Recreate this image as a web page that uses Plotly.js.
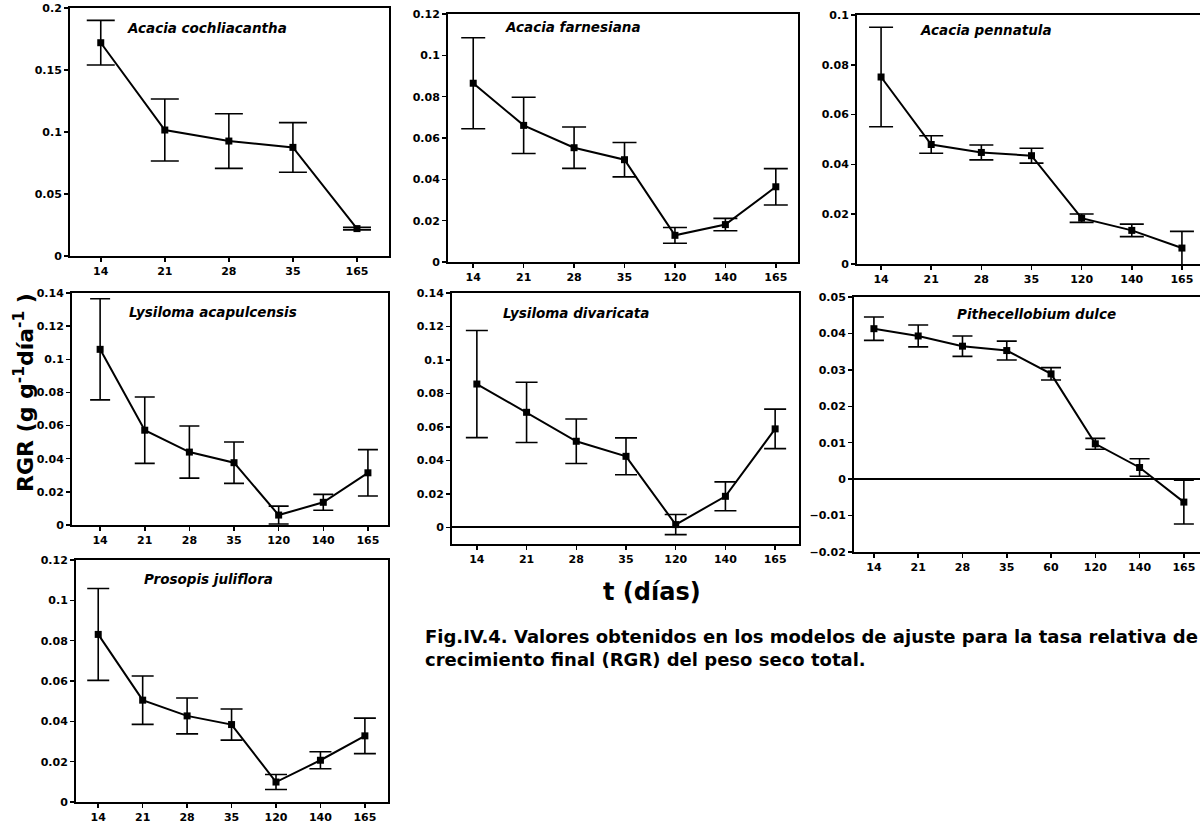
<!DOCTYPE html>
<html>
<head>
<meta charset="utf-8">
<script src="https://cdn.plot.ly/plotly-3.0.1.min.js"></script>
<style>
html,body{margin:0;padding:0;overflow:hidden;background:#fff;}
#chart{width:1210px;height:828px;}
</style>
</head>
<body>
<div id="chart"></div>
<script>
// ---- data ----
const daysShort = ['14','21','28','35','165'];
const daysLong = ['14','21','28','35','120','140','165'];
const daysDulce = ['14','21','28','35','60','120','140','165'];

const cochRGR = [0.172, 0.1016, 0.0927, 0.0876, 0.0221];
const cochErr = [0.018, 0.025, 0.022, 0.020, 0.001];

const farnRGR = [0.0865, 0.0661, 0.0553, 0.0495, 0.0129, 0.0181, 0.0364];
const farnErr = [0.022, 0.0136, 0.010, 0.0083, 0.0038, 0.003, 0.0088];

const pennRGR = [0.0751, 0.048, 0.0448, 0.0435, 0.0184, 0.0135, 0.0064];
const pennErr = [0.020, 0.0035, 0.003, 0.003, 0.0017, 0.0025, 0.0067];

const acapRGR = [0.106, 0.0572, 0.044, 0.0376, 0.006, 0.0137, 0.0315];
const acapErr = [0.0305, 0.020, 0.0157, 0.0125, 0.0054, 0.0048, 0.014];

const divaRGR = [0.0856, 0.0687, 0.0514, 0.0424, 0.0016, 0.0185, 0.0588];
const divaErr = [0.032, 0.018, 0.0133, 0.011, 0.006, 0.0086, 0.0118];

const dulcRGR = [0.0413, 0.0393, 0.0365, 0.0353, 0.0289, 0.0097, 0.0032, -0.0063];
const dulcErr = [0.0032, 0.003, 0.0028, 0.0026, 0.0017, 0.0015, 0.0024, 0.006];

const juliRGR = [0.0831, 0.0505, 0.0427, 0.0384, 0.0099, 0.0207, 0.0328];
const juliErr = [0.0228, 0.012, 0.0089, 0.0077, 0.0037, 0.0042, 0.0088];

const speciesNames = ['Acacia cochliacantha','Acacia farnesiana','Acacia pennatula',
  'Lysiloma acapulcensis','Lysiloma divaricata','Pithecellobium dulce','Prosopis juliflora'];

const yTitleText = 'RGR (g g<sup>-1</sup>día<sup>-1</sup> )';
const xTitleText = 't (días)';
const captionText = 'Fig.IV.4. Valores obtenidos en los modelos de ajuste para la tasa relativa de<br>crecimiento final (RGR) del peso seco total.';

// ---- layout helpers ----
const W = 1210, H = 828;
const dx = (a,b) => [a/W, b/W];
const dy = (top,bottom) => [1-bottom/H, 1-top/H];

const panels = [
  {x: daysShort, y: cochRGR, e: cochErr, xd: dx(70,389), yd: dy(8,256), xr:[-0.48,4.5], yr:[0,0.2], dt:0.05, cap:14, zl:false, tx:125, ty:28},
  {x: daysLong, y: farnRGR, e: farnErr, xd: dx(448,798), yd: dy(14,262), xr:[-0.5,6.44], yr:[0,0.12], dt:0.02, cap:12, zl:false, tx:503, ty:27},
  {x: daysLong, y: pennRGR, e: pennErr, xd: dx(857,1207), yd: dy(15,264), xr:[-0.48,6.5], yr:[0,0.1], dt:0.02, cap:12, zl:false, tx:918, ty:30},
  {x: daysLong, y: acapRGR, e: acapErr, xd: dx(72,388), yd: dy(293,525), xr:[-0.63,6.45], yr:[0,0.14], dt:0.02, cap:10, zl:false, tx:127, ty:312},
  {x: daysLong, y: divaRGR, e: divaErr, xd: dx(452,799), yd: dy(293,544), xr:[-0.5,6.48], yr:[-0.01,0.14], dt:0.02, cap:11, zl:true, tx:501, ty:313},
  {x: daysDulce, y: dulcRGR, e: dulcErr, xd: dx(854,1206), yd: dy(297,552), xr:[-0.45,7.5], yr:[-0.02,0.05], dt:0.01, cap:10, zl:true, tx:955, ty:314},
  {x: daysLong, y: juliRGR, e: juliErr, xd: dx(76,388), yd: dy(560,802), xr:[-0.5,6.52], yr:[0,0.12], dt:0.02, cap:11, zl:false, tx:142, ty:579}
];

const tickFont = {family:'DejaVu Sans', size:11, color:'#000', weight:'bold'};
const traces = [];
const layout = {
  width: W, height: H,
  margin: {l:0, r:0, t:0, b:0},
  paper_bgcolor: '#fff', plot_bgcolor: '#fff',
  showlegend: false,
  annotations: []
};

panels.forEach((p, i) => {
  const n = i === 0 ? '' : String(i+1);
  traces.push({
    type: 'scatter', mode: 'lines+markers',
    x: p.x, y: p.y,
    xaxis: 'x'+n, yaxis: 'y'+n,
    line: {color:'#000', width:2},
    marker: {symbol:'square', size:7, color:'#000'},
    error_y: {type:'data', array:p.e, visible:true, color:'#000', thickness:1.6, width:p.cap},
    hoverinfo: 'skip'
  });
  layout['xaxis'+n] = {
    domain: p.xd, anchor: 'y'+n, type:'category', range: p.xr,
    showgrid:false, zeroline:false, showline:true, mirror:true, linecolor:'#000', linewidth:2,
    ticks:'outside', ticklen:4, tickwidth:1.5, tickcolor:'#000', tickfont: tickFont, fixedrange:true
  };
  layout['yaxis'+n] = {
    domain: p.yd, anchor: 'x'+n, range: p.yr, dtick: p.dt, tick0: 0,
    showgrid:false, zeroline:p.zl, zerolinecolor:'#000', zerolinewidth:2,
    showline:true, mirror:true, linecolor:'#000', linewidth:2,
    ticks:'outside', ticklen:4, tickwidth:1.5, tickcolor:'#000', tickfont: tickFont, fixedrange:true
  };
  layout.annotations.push({
    xref:'paper', yref:'paper', x: p.tx/W, y: 1-p.ty/H, xanchor:'left', yanchor:'middle',
    text: speciesNames[i], showarrow:false,
    font: {family:'DejaVu Sans', size:13.5, color:'#000', weight:'bold', style:'italic'}
  });
});

layout.annotations.push({
  xref:'paper', yref:'paper', x: 24/W, y: 1-393/H, xanchor:'center', yanchor:'middle',
  text: yTitleText, textangle: -90, showarrow:false,
  font: {family:'DejaVu Sans', size:22, color:'#000', weight:'bold'}
});
layout.annotations.push({
  xref:'paper', yref:'paper', x: 652/W, y: 1-592/H, xanchor:'center', yanchor:'middle',
  text: xTitleText, showarrow:false,
  font: {family:'DejaVu Sans', size:24, color:'#000', weight:'bold'}
});
layout.annotations.push({
  xref:'paper', yref:'paper', x: 423/W, y: 1-648/H, xanchor:'left', yanchor:'middle', align:'left',
  text: captionText, showarrow:false,
  font: {family:'DejaVu Sans', size:18, color:'#000', weight:'bold'}
});

Plotly.newPlot('chart', traces, layout, {staticPlot:true, displayModeBar:false});
</script>
</body>
</html>
